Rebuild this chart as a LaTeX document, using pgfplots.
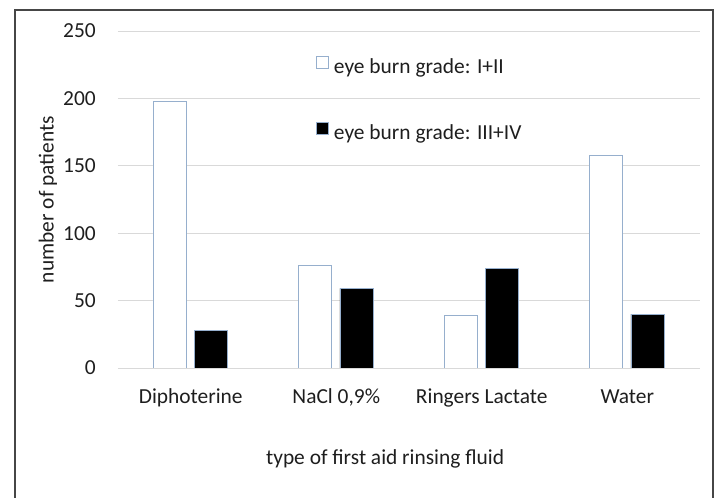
\documentclass[border=0pt]{standalone}
\usepackage{pgfplots}
\pgfplotsset{compat=1.18}
\usepackage{fontspec}
\setmainfont{Carlito}
\definecolor{gridc}{RGB}{217,217,217}
\definecolor{barline}{RGB}{150,175,205}
\definecolor{framec}{RGB}{70,70,70}
\definecolor{txt}{RGB}{30,30,30}
\begin{document}
\begin{tikzpicture}[x=1bp,y=1bp]
\begin{axis}[
  scale only axis, width=582bp, height=337bp,
  xmin=-0.5, xmax=3.5, ymin=0, ymax=250,
  ytick={0,50,100,150,200,250},
  xtick={0,1,2,3},
  xticklabels={Diphoterine,{NaCl 0,9\%},Ringers Lactate,Water},
  axis line style={draw=none},
  major tick length=0pt,
  ymajorgrids, grid style={gridc, line width=0.9bp},
  /pgf/number format/assume math mode=true,
  font=\fontsize{21.5}{25}\selectfont,
  every tick label/.append style={font=\fontsize{21.5}{25}\selectfont, text=txt},
  yticklabel style={anchor=east, inner sep=0pt, xshift=-22bp},
  xticklabel style={anchor=base, inner sep=0pt, yshift=-36bp},
  ylabel={number of patients},
  ylabel style={at={(axis description cs:-0.1203,0.5)}, anchor=center, inner sep=0pt, text=txt, font=\fontsize{21.5}{25}\selectfont},
  xlabel={type of first aid rinsing fluid},
  xlabel style={at={(axis description cs:0.459,-0.2878)}, anchor=base, inner sep=0pt, text=txt, font=\fontsize{21.5}{25}\selectfont},
  legend style={draw=none, fill=none, inner sep=0pt,
    at={(axis description cs:0.340,0.927)}, anchor=north west,
    nodes={inner sep=0pt, text height=15bp, text depth=5bp, text=txt, font=\fontsize{21.5}{25}\selectfont},
    row sep=43.3bp, column sep=5bp},
  legend cell align=left,
  legend image code/.code={\draw[#1, line width=0.9bp] (0bp,0.5bp) rectangle (12bp,12.5bp);},
]
\addplot[ybar, bar width=0.227, bar shift=-0.146, fill=white, draw=barline, line width=0.9bp]
  coordinates {(0,198) (1,76) (2,39) (3,158)};
\addlegendentry{eye burn grade: I+II}
\addplot[ybar, bar width=0.227, bar shift=0.139, fill=black, draw=barline, line width=0.9bp]
  coordinates {(0,28) (1,59) (2,74) (3,40)};
\addlegendentry{eye burn grade: III+IV}
\coordinate (O) at (rel axis cs:0,0);
\end{axis}
\begin{scope}[shift={(O)}]
\draw[line width=2.5bp, framec] (15.25-118,-20-130) rectangle (712.75-118,487.75-130);
\end{scope}
\pgfresetboundingbox
\begin{scope}[shift={(O)}]
\useasboundingbox (-118,-130) rectangle (600,368);
\end{scope}
\end{tikzpicture}
\end{document}
